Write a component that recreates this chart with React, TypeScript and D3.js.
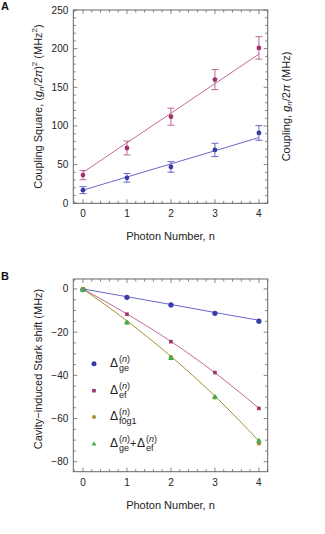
import React from "react";
import * as d3 from "d3";

// photon number on both panels
const photonN = [0, 1, 2, 3, 4];

// panel A: coupling square (MHz^2) with error bars
const gSqEf = [36.5, 71.5, 112, 160, 201];
const gSqEfErr = [6, 9, 11, 13, 14.5];
const gSqGe = [17, 33, 47, 69, 91];
const gSqGeErr = [4.5, 5.6, 6.8, 8.6, 9.5];
const fitN = [0, 4];
const fitEf = [40, 193];
const fitGe = [17, 85];

// panel B: cavity induced stark shift (MHz)
const shiftGe = [-0.3, -3.9, -7.4, -11.3, -14.9];
const shiftEf = [0, -11.7, -24.4, -38.7, -55.3];
const shiftF0g1 = [0, -15.5, -31.6, -50.2, -71.5];
const shiftSum = [-0.6, -15.7, -32.1, -50.1, -70.3];
const curveGe = [0, -3.6, -7.2, -10.9, -14.5];
const curveEf = [0, -11.6, -24.3, -38.8, -55.2];
const curveF0g1 = [0, -14.8, -31.2, -49.6, -70.4];

const xTicks = [0, 1, 2, 3, 4];
const yTicksA = [0, 50, 100, 150, 200, 250];
const yTicksB = [0, -20, -40, -60, -80];

const FONT = "'Liberation Sans', Arial, sans-serif";
const FRAME = "#666";
const BLUE = "#3b3ba8";
const BLUE_L = "#6868cc";
const MAG = "#a0306e";
const MAG_L = "#bf6a9c";
const GOLD = "#a88f32";
const GREEN = "#3fae4f";

function Frame({ x, y, xMinor, yMinor, yMajor }) {
  const [x0, x1] = x.range();
  const [yb, yt] = y.range();
  const M = 4, m = 2.5;
  const els = [];
  xMinor.forEach((v, i) => {
    const major = xTicks.includes(Math.round(v * 10) / 10);
    const L = major ? M : m;
    const px = x(v);
    els.push(<line key={"xb" + i} x1={px} x2={px} y1={yb} y2={yb - L} />);
    els.push(<line key={"xt" + i} x1={px} x2={px} y1={yt} y2={yt + L} />);
  });
  yMinor.forEach((v, i) => {
    const L = yMajor.includes(v) ? M : m;
    const py = y(v);
    els.push(<line key={"yl" + i} x1={x0} x2={x0 + L} y1={py} y2={py} />);
    els.push(<line key={"yr" + i} x1={x1} x2={x1 - L} y1={py} y2={py} />);
  });
  return (
    <g>
      <g stroke={FRAME} strokeWidth={0.8}>{els}</g>
      <rect x={x0} y={yt} width={x1 - x0} height={yb - yt} fill="none" stroke={FRAME} strokeWidth={1} />
      <g fontSize={10} fill="#222" fontFamily={FONT}>
        {xTicks.map((v) => (
          <text key={"xl" + v} x={x(v)} y={yb + 14} textAnchor="middle">{v}</text>
        ))}
        {yMajor.map((v) => (
          <text key={"yl" + v} x={x0 - 5} y={y(v) + 3.5} textAnchor="end">{v < 0 ? "\u2212" + -v : v}</text>
        ))}
      </g>
    </g>
  );
}

function ErrorSeries({ x, y, vals, errs, color, light }) {
  return (
    <g>
      {photonN.map((n, i) => {
        const px = x(n);
        const lo = y(vals[i] - errs[i]);
        const hi = y(vals[i] + errs[i]);
        return (
          <g key={i} stroke={light} strokeWidth={1}>
            <line x1={px} x2={px} y1={lo} y2={hi} />
            <line x1={px - 3.5} x2={px + 3.5} y1={lo} y2={lo} />
            <line x1={px - 3.5} x2={px + 3.5} y1={hi} y2={hi} />
          </g>
        );
      })}
      {photonN.map((n, i) => (
        <circle key={"p" + i} cx={x(n)} cy={y(vals[i])} r={2.4} fill={color} />
      ))}
    </g>
  );
}

function Marker({ kind, cx, cy, color, size }) {
  if (kind === "circle") return <circle cx={cx} cy={cy} r={size} fill={color} />;
  if (kind === "square") return <rect x={cx - size} y={cy - size} width={size * 2} height={size * 2} fill={color} />;
  const p = d3.symbol().type(d3.symbolTriangle).size(size * size * 4)();
  return <path d={p} transform={`translate(${cx},${cy})`} fill={color} />;
}

function Delta({ x, y, sub }) {
  return (
    <g>
      <text x={x} y={y} fontSize={12}>{"\u0394"}</text>
      <text x={x + 9} y={y - 5} fontSize={9}>(<tspan fontStyle="italic">n</tspan>)</text>
      <text x={x + 9} y={y + 4} fontSize={9}>{sub}</text>
    </g>
  );
}

export default function App() {
  const xA = d3.scaleLinear().domain([-0.22, 4.2]).range([73.3, 267.7]);
  const yA = d3.scaleLinear().domain([0, 250]).range([203.3, 10]);
  const xB = d3.scaleLinear().domain([-0.22, 4.2]).range([73.3, 267.7]);
  const yB = d3.scaleLinear().domain([-84.6, 4.6]).range([471.7, 279]);

  const xMinor = d3.range(-0.2, 4.21, 0.2).map((v) => Math.round(v * 10) / 10);
  const lineA = d3.line<number>().x((_, i) => xA(fitN[i])).y((d) => yA(d));
  const lineB = d3.line<number>().x((_, i) => xB(photonN[i])).y((d) => yB(d)).curve(d3.curveMonotoneX);

  const legend = [
    { kind: "circle", color: BLUE, size: 2.5 },
    { kind: "square", color: MAG, size: 1.8 },
    { kind: "circle", color: GOLD, size: 2 },
    { kind: "triangle", color: GREEN, size: 1.6 },
  ];
  const legY = [363.7, 390.7, 417, 444];

  return (
    <svg width={325} height={534} style={{ position: "absolute", left: 0, top: 0, background: "#fff" }} fontFamily={FONT}>
      {/* panel A */}
      <text x={1} y={10} fontSize={11} fontWeight="bold" fill="#111">A</text>
      <Frame x={xA} y={yA} xMinor={xMinor} yMinor={d3.range(0, 251, 10)} yMajor={yTicksA} />
      <path d={lineA(fitEf)} fill="none" stroke={MAG_L} strokeWidth={1} />
      <path d={lineA(fitGe)} fill="none" stroke={BLUE_L} strokeWidth={1} />
      <ErrorSeries x={xA} y={yA} vals={gSqEf} errs={gSqEfErr} color={MAG} light={MAG_L} />
      <ErrorSeries x={xA} y={yA} vals={gSqGe} errs={gSqGeErr} color={BLUE} light={BLUE_L} />
      <text x={170.5} y={240} fontSize={11} textAnchor="middle" fill="#222">Photon Number, n</text>
      <text transform="translate(42,106.5) rotate(-90)" fontSize={11} textAnchor="middle" fill="#222">
        Coupling Square, (<tspan fontStyle="italic">g</tspan><tspan fontSize={8} dy={2} fontStyle="italic">n</tspan>
        <tspan dy={-2}>/2</tspan><tspan fontStyle="italic">π</tspan>)<tspan fontSize={8} dy={-5}>2</tspan>
        <tspan dy={5}> (MHz</tspan><tspan fontSize={8} dy={-5}>2</tspan><tspan dy={5}>)</tspan>
      </text>
      <text transform="translate(290,106.5) rotate(-90)" fontSize={11} textAnchor="middle" fill="#222">
        Coupling, <tspan fontStyle="italic">g</tspan><tspan fontSize={8} dy={2} fontStyle="italic">n</tspan>
        <tspan dy={-2}>/2</tspan><tspan fontStyle="italic">π</tspan> (MHz)
      </text>

      {/* panel B */}
      <text x={1} y={280} fontSize={11} fontWeight="bold" fill="#111">B</text>
      <Frame x={xB} y={yB} xMinor={xMinor} yMinor={d3.range(-80, 1, 5)} yMajor={yTicksB} />
      <path d={lineB(curveGe)} fill="none" stroke={BLUE_L} strokeWidth={1} />
      <path d={lineB(curveEf)} fill="none" stroke={MAG_L} strokeWidth={1} />
      <path d={lineB(curveF0g1)} fill="none" stroke={GOLD} strokeWidth={1} />
      {photonN.map((n, i) => (
        <g key={"b" + i}>
          <Marker kind="circle" cx={xB(n)} cy={yB(shiftGe[i])} color={BLUE} size={2.6} />
          <Marker kind="square" cx={xB(n)} cy={yB(shiftEf[i])} color={MAG} size={1.8} />
          <Marker kind="circle" cx={xB(n)} cy={yB(shiftF0g1[i])} color={GOLD} size={2.2} />
          <Marker kind="triangle" cx={xB(n)} cy={yB(shiftSum[i])} color={GREEN} size={1.9} />
        </g>
      ))}
      <g fill="#222">
        {legend.map((l, i) => (
          <Marker key={"lm" + i} kind={l.kind} cx={94} cy={legY[i]} color={l.color} size={l.size} />
        ))}
        <Delta x={110} y={legY[0] + 3} sub="ge" />
        <Delta x={110} y={legY[1] + 3} sub="ef" />
        <Delta x={110} y={legY[2] + 3} sub="f0g1" />
        <Delta x={110} y={legY[3] + 3} sub="ge" />
        <text x={130} y={legY[3] + 3} fontSize={11}>+</text>
        <Delta x={137} y={legY[3] + 3} sub="ef" />
      </g>
      <text x={170.5} y={509} fontSize={11} textAnchor="middle" fill="#222">Photon Number, n</text>
      <text transform="translate(42,369) rotate(-90)" fontSize={11} textAnchor="middle" fill="#222">
        Cavity{"\u2212"}induced Stark shift (MHz)
      </text>
    </svg>
  );
}
